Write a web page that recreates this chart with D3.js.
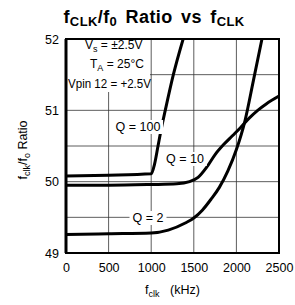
<!DOCTYPE html>
<html>
<head>
<meta charset="utf-8">
<script src="https://cdn.jsdelivr.net/npm/d3@7/dist/d3.min.js"></script>
<style>
  body { margin: 0; background: #fff; }
  svg { display: block; font-family: "Liberation Sans", Arial, sans-serif; }
  .grid line { stroke: #333; stroke-width: 0.8; }
  .tick text { font-size: 12.5px; fill: #000; }
</style>
</head>
<body>
<svg id="chart" width="295" height="305"></svg>
<script>
// values (kHz, ratio)
var xTicks = [0, 500, 1000, 1500, 2000, 2500];
var yTicks = [49, 50, 51, 52];

var q100 = [[0, 50.08], [500, 50.09], [1000, 50.11], [1040, 50.25], [1080, 50.5],
  [1120, 50.75], [1165, 51.0], [1260, 51.5], [1375, 52.0]];
var q10 = [[0, 49.95], [500, 49.95], [1000, 49.96], [1300, 49.97], [1450, 50.0],
  [1550, 50.06], [1650, 50.2], [1750, 50.38], [1850, 50.52], [1950, 50.64],
  [2050, 50.76], [2150, 50.89], [2250, 51.0], [2350, 51.09], [2500, 51.2]];
var q2 = [[0, 49.26], [500, 49.27], [1000, 49.28], [1200, 49.32], [1400, 49.42],
  [1500, 49.49], [1600, 49.6], [1700, 49.75], [1800, 49.92], [1900, 50.15],
  [2000, 50.45], [2100, 50.85], [2200, 51.42], [2300, 52.0]];

var svg = d3.select('#chart');
var L = 66, R = 279, T = 39, B = 253;

var x = d3.scaleLinear().domain([0, 2500]).range([L, R]);
var y = d3.scaleLinear().domain([49, 52]).range([B, T]);

// grid: every 500 kHz, every 0.5 in ratio
var grid = svg.append('g').attr('class', 'grid');
grid.selectAll('line.v')
  .data(d3.range(500, 2500, 500))
  .enter().append('line')
  .attr('x1', function(d){ return x(d); })
  .attr('x2', function(d){ return x(d); })
  .attr('y1', T).attr('y2', B);
grid.selectAll('line.h')
  .data(d3.range(49.5, 52, 0.5))
  .enter().append('line')
  .attr('x1', L).attr('x2', R)
  .attr('y1', function(d){ return y(d); })
  .attr('y2', function(d){ return y(d); });

// conditions box covers the grid
svg.append('rect')
  .attr('x', L).attr('y', T).attr('width', 84).attr('height', 53)
  .attr('fill', '#fff');

svg.append('defs').append('clipPath').attr('id', 'plot')
  .append('rect').attr('x', L).attr('y', T).attr('width', R - L).attr('height', B - T);

var line = d3.line()
  .x(function(d){ return x(d[0]); })
  .y(function(d){ return y(d[1]); })
  .curve(d3.curveMonotoneX);

var curves = svg.append('g').attr('clip-path', 'url(#plot)');
[q100, q10, q2].forEach(function(s){
  curves.append('path')
    .attr('d', line(s))
    .attr('fill', 'none')
    .attr('stroke', '#000')
    .attr('stroke-width', 3);
});

// curve labels on white patches
var labels = [
  {t: 'Q = 100', x: 138, y: 127},
  {t: 'Q = 10', x: 185, y: 159},
  {t: 'Q = 2', x: 148, y: 218}
];
var lab = svg.selectAll('g.lab').data(labels).enter().append('g');
lab.append('rect')
  .attr('x', function(d){ return d.x - d.t.length * 3.3 - 2; })
  .attr('y', function(d){ return d.y - 7; })
  .attr('width', function(d){ return d.t.length * 6.6 + 4; })
  .attr('height', 14)
  .attr('fill', '#fff');
lab.append('text')
  .attr('x', function(d){ return d.x; })
  .attr('y', function(d){ return d.y + 4; })
  .attr('text-anchor', 'middle')
  .attr('font-size', 12.5)
  .text(function(d){ return d.t; });

// frame
svg.append('rect')
  .attr('x', L).attr('y', T).attr('width', R - L).attr('height', B - T)
  .attr('fill', 'none').attr('stroke', '#000').attr('stroke-width', 2);
svg.append('line').attr('x1', L).attr('x2', L).attr('y1', T).attr('y2', B)
  .attr('stroke', '#000').attr('stroke-width', 3);

// axes
var xAxis = svg.append('g')
  .attr('transform', 'translate(0,' + B + ')')
  .call(d3.axisBottom(x).tickValues(xTicks).tickSize(0).tickPadding(10).tickFormat(d3.format('d')));
var yAxis = svg.append('g')
  .attr('transform', 'translate(' + L + ',0)')
  .call(d3.axisLeft(y).tickValues(yTicks).tickSize(0).tickPadding(7).tickFormat(d3.format('d')));
xAxis.select('.domain').remove();
yAxis.select('.domain').remove();

// conditions
var cond = svg.append('text').attr('font-size', 12);
var c1 = cond.append('tspan').attr('x', 85).attr('y', 49);
c1.append('tspan').text('V');
c1.append('tspan').attr('font-size', 9).attr('dy', 3).text('s');
c1.append('tspan').attr('dy', -3).text(' = \u00b12.5V');
var c2 = cond.append('tspan').attr('x', 90).attr('y', 68);
c2.append('tspan').text('T');
c2.append('tspan').attr('font-size', 9).attr('dy', 3).text('A');
c2.append('tspan').attr('dy', -3).text(' = 25\u00b0C');
cond.append('tspan').attr('x', 68).attr('y', 88)
  .attr('textLength', 83).attr('lengthAdjust', 'spacingAndGlyphs')
  .text('Vpin 12 = +2.5V');

// title
var title = svg.append('text')
  .attr('x', 154).attr('y', 23)
  .attr('text-anchor', 'middle')
  .attr('font-size', 18).attr('font-weight', 'bold')
  .attr('letter-spacing', 0.4).attr('word-spacing', 3);
title.append('tspan').text('f');
title.append('tspan').attr('font-size', 13).attr('dy', 3).text('CLK');
title.append('tspan').attr('dy', -3).text('/f');
title.append('tspan').attr('font-size', 13).attr('dy', 3).text('0');
title.append('tspan').attr('dy', -3).text(' Ratio vs f');
title.append('tspan').attr('font-size', 13).attr('dy', 3).text('CLK');

// axis titles
var xt = svg.append('text').attr('x', 145).attr('y', 294).attr('font-size', 12.5);
xt.append('tspan').text('f');
xt.append('tspan').attr('font-size', 9).attr('dy', 3).text('clk');
xt.append('tspan').attr('x', 170).attr('dy', -3).text('(kHz)');

var yt = svg.append('text')
  .attr('transform', 'translate(27,150) rotate(-90)')
  .attr('text-anchor', 'middle').attr('font-size', 12.5);
yt.append('tspan').text('f');
yt.append('tspan').attr('font-size', 9).attr('dy', 3).text('clk');
yt.append('tspan').attr('dy', -3).text('/f');
yt.append('tspan').attr('font-size', 9).attr('dy', 3).text('o');
yt.append('tspan').attr('dy', -3).text(' Ratio');
</script>
</body>
</html>
